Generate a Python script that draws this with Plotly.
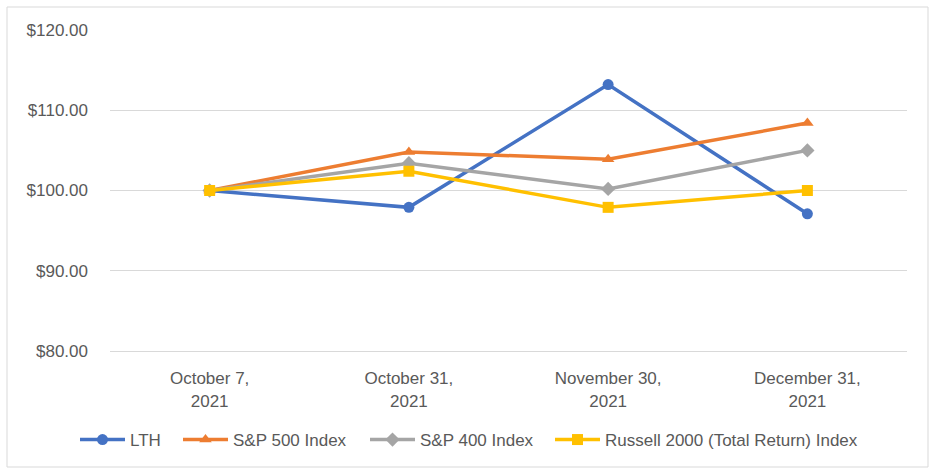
import plotly.graph_objects as go

categories = ["October 7,<br>2021", "October 31,<br>2021", "November 30,<br>2021", "December 31,<br>2021"]
lth = [100.0, 97.9, 113.2, 97.1]
sp500 = [100.0, 104.8, 103.9, 108.4]
sp400 = [100.0, 103.4, 100.2, 105.0]
russell = [100.0, 102.4, 97.9, 100.0]

series = [
    ("LTH", lth, "#4472C4", "circle"),
    ("S&P 500 Index", sp500, "#ED7D31", "triangle-up"),
    ("S&P 400 Index", sp400, "#A5A5A5", "diamond"),
    ("Russell 2000 (Total Return) Index", russell, "#FFC000", "square"),
]
legend_starts = [80, 183, 370, 555]  # pixel x where each legend item's line starts

font_family = "Liberation Sans, Arial, sans-serif"
text_color = "#595959"

W, H = 929, 471
L, R, T, B = 110, 907, 30, 351
pw, ph = R - L, B - T


def px(x):
    return (x - L) / pw


def py(y):
    return (B - y) / ph


fig = go.Figure()
legend_layouts = {}
for i, (name, vals, color, sym) in enumerate(series):
    lname = "legend" if i == 0 else f"legend{i + 1}"
    fig.add_trace(go.Scatter(
        x=categories, y=vals, name=name, mode="lines+markers",
        line=dict(color=color, width=3.5),
        marker=dict(color=color, symbol=sym, size=11),
        legend=lname,
    ))
    legend_layouts[lname] = dict(
        orientation="h", x=px(legend_starts[i] - 5), xanchor="left",
        y=py(440), yanchor="middle", bgcolor="rgba(0,0,0,0)",
        font=dict(size=17, color=text_color, family=font_family),
        itemwidth=45,
    )

fig.add_shape(type="rect", xref="paper", yref="paper",
              x0=px(7), x1=px(928), y0=py(467), y1=py(7),
              line=dict(color="#D9D9D9", width=1), fillcolor="rgba(0,0,0,0)", layer="below")

fig.update_layout(
    width=W, height=H,
    margin=dict(l=L, r=W - R, t=T, b=H - B, pad=0),
    paper_bgcolor="white", plot_bgcolor="white",
    font=dict(family=font_family, size=17, color=text_color),
    showlegend=True,
    xaxis=dict(type="category", showgrid=False, showline=True, linecolor="#D9D9D9", linewidth=1,
               ticks="", ticklabelstandoff=12, tickfont=dict(size=17, color=text_color),
               range=[-0.5, 3.5]),
    yaxis=dict(range=[80, 120], dtick=10, tick0=80, tickprefix="$", tickformat=".2f",
               showgrid=True, gridcolor="#D9D9D9", gridwidth=1, zeroline=False, showline=False,
               ticks="", ticklabelstandoff=21, tickfont=dict(size=17, color=text_color)),
    **legend_layouts,
)

fig.write_html("out.html", config={"displayModeBar": False},
               post_script="document.body.style.margin='0';")
